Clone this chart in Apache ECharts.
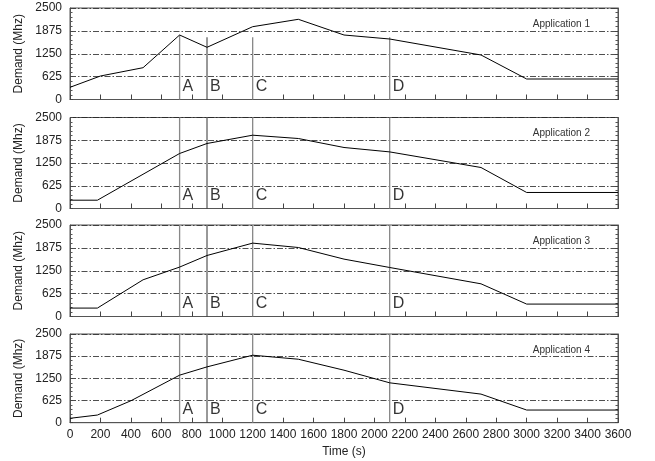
<!DOCTYPE html>
<html>
<head>
<meta charset="utf-8">
<script src="https://cdn.jsdelivr.net/npm/echarts@6/dist/echarts.min.js"></script>
<style>
html,body{margin:0;padding:0;background:#fff;}
#c{width:655px;height:461px;}
</style>
</head>
<body>
<div id="c"></div>
<script>
// ---- data ----
var panelNames = ['Application 1', 'Application 2', 'Application 3', 'Application 4'];
var times1 = [0, 200, 480, 720, 900, 1200, 1500, 1800, 2100, 2700, 3000, 3600];
var app1   = [333, 642, 869, 1762, 1426, 1989, 2191, 1762, 1653, 1216, 560, 560];
var times2 = [0, 180, 720, 900, 1200, 1500, 1800, 2100, 2700, 3000, 3600];
var app2   = [228, 228, 1511, 1786, 2014, 1923, 1676, 1555, 1126, 440, 440];
var times3 = [0, 180, 480, 720, 900, 1200, 1500, 1800, 2100, 2700, 3000, 3600];
var app3   = [230, 230, 1003, 1350, 1667, 2005, 1885, 1568, 1339, 893, 339, 339];
var times4 = [0, 180, 400, 720, 900, 1200, 1500, 1800, 2100, 2700, 3000, 3600];
var app4   = [124, 216, 618, 1340, 1573, 1902, 1789, 1480, 1124, 806, 357, 357];
var eventTimes  = [720, 900, 1200, 2100];
var eventLabels = ['A', 'B', 'C', 'D'];
var eventTop1   = [1762, 1700, 1700, 1700];
var eventTopN   = [2500, 2500, 2500, 2500];
var yTicks = [0, 625, 1250, 1875, 2500];
var xTickStep = 200;
var xMax = 3600;
var yMax = 2500;
var labelLevel = 360;

var allTimes = [times1, times2, times3, times4];
var allVals = [app1, app2, app3, app4];
var eventTops = [eventTop1, eventTopN, eventTopN, eventTopN];

// ---- layout ----
var FONT = '"Liberation Sans", Arial, sans-serif';
var tops = [8, 117.5, 225, 334];
var heights = [91.5, 91, 91.5, 88.7];
var gridLeft = 70, gridWidth = 548;

var grids = [], xAxes = [], yAxes = [], series = [], titles = [];
for (var p = 0; p < 4; p++) {
  grids.push({left: gridLeft, top: tops[p], width: gridWidth, height: heights[p],
    show: true, borderColor: '#555', borderWidth: 1, backgroundColor: 'transparent'});
  var last = (p === 3);
  xAxes.push({
    type: 'value', gridIndex: p, min: 0, max: xMax, interval: xTickStep,
    axisLine: {show: true, lineStyle: {color: '#555', width: 1}},
    axisTick: {show: true, inside: true, length: 5, lineStyle: {color: '#444'}},
    axisLabel: {show: last, interval: 0, margin: 6, fontSize: 12, color: '#222', fontFamily: FONT,
      formatter: function (v) { return String(v); }},
    splitLine: {show: false},
    name: last ? 'Time (s)' : '', nameLocation: 'middle', nameGap: 23,
    nameTextStyle: {fontSize: 12, color: '#222', fontFamily: FONT}
  });
  yAxes.push({
    type: 'value', gridIndex: p, min: 0, max: yMax, interval: 625, position: 'left',
    axisLine: {show: true, lineStyle: {color: '#555', width: 1}},
    axisTick: {show: true, inside: true, length: 3, lineStyle: {color: '#444'}},
    minorTick: {show: true, splitNumber: 5, length: 2.5, lineStyle: {color: '#555'}},
    axisLabel: {show: true, margin: 8, fontSize: 12, color: '#222', fontFamily: FONT,
      formatter: function (v) { return yTicks.indexOf(v) >= 0 ? String(v) : ''; }},
    splitLine: {show: true, lineStyle: {color: '#222', width: 0.8, type: [6, 2, 1.5, 2]}},
    name: 'Demand (Mhz)', nameLocation: 'middle', nameGap: 42, nameRotate: 90,
    nameTextStyle: {fontSize: 12, color: '#222', fontFamily: FONT}
  });
  yAxes.push({
    type: 'value', gridIndex: p, min: 0, max: yMax, interval: 625, position: 'right',
    axisLine: {show: true, lineStyle: {color: '#555', width: 1}},
    axisTick: {show: true, inside: true, length: 3, lineStyle: {color: '#444'}},
    minorTick: {show: true, splitNumber: 5, length: 2.5, lineStyle: {color: '#555'}},
    axisLabel: {show: false}, splitLine: {show: false}
  });
  titles.push({text: panelNames[p], right: 60, top: tops[p] + 6,
    textStyle: {fontSize: 10, fontWeight: 'normal', color: '#333', fontFamily: FONT}});

  var pts = allTimes[p].map(function (t, i) { return [t, allVals[p][i]]; });
  series.push({type: 'line', xAxisIndex: p, yAxisIndex: 2 * p, data: pts, symbol: 'none',
    lineStyle: {color: '#000', width: 1}, z: 5, silent: true, animation: false});

  for (var e = 0; e < eventTimes.length; e++) {
    series.push({type: 'line', xAxisIndex: p, yAxisIndex: 2 * p,
      data: [[eventTimes[e], 0], [eventTimes[e], eventTops[p][e]]],
      symbol: 'none', lineStyle: {color: eventLabels[e] === 'B' ? '#333' : '#888', width: eventLabels[e] === 'B' ? 1 : 1.3},
      z: 4, silent: true, animation: false});
  }
  series.push({type: 'scatter', xAxisIndex: p, yAxisIndex: 2 * p, symbolSize: 0,
    data: eventTimes.map(function (t, i) { return {value: [t, labelLevel], name: eventLabels[i]}; }),
    label: {show: true, position: 'right', distance: 3, formatter: '{b}',
      fontSize: 16, color: '#000', fontFamily: FONT},
    silent: true, animation: false});
}

var chart = echarts.init(document.getElementById('c'), null, {renderer: 'canvas'});
chart.setOption({
  backgroundColor: '#fff',
  animation: false,
  title: titles,
  grid: grids,
  xAxis: xAxes,
  yAxis: yAxes,
  series: series
});
</script>
</body>
</html>
